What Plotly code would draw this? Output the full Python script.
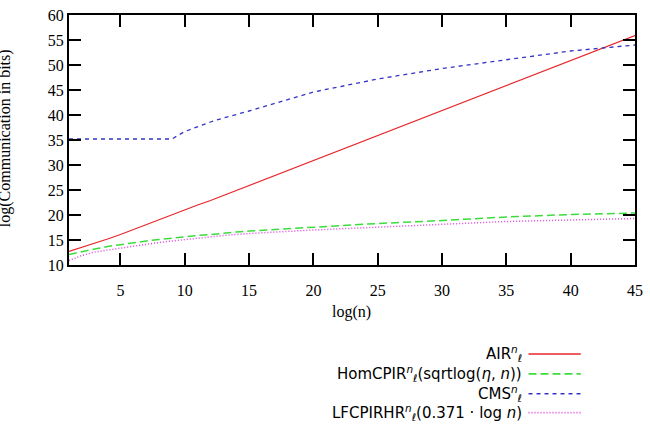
import plotly.graph_objects as go

# log(n) sample points
x_vals = [1, 2, 3, 4, 5, 6, 7, 8, 9, 10, 11, 12, 13, 14, 15, 20, 25, 30, 35, 40, 45]

air = [12.7, 13.5, 14.3, 15.2, 16.1, 17.1, 18.0, 19.0, 20.0, 21.0, 22.0, 22.9, 23.9, 24.8, 25.8,
       30.9, 35.9, 40.9, 45.9, 50.9, 55.9]
homcpir = [12.1, 12.7, 13.2, 13.7, 14.1, 14.5, 14.8, 15.1, 15.4, 15.6, 15.9, 16.1, 16.4, 16.6, 16.8,
           17.6, 18.3, 18.9, 19.6, 20.1, 20.4]
cms = [35.2, 35.2, 35.2, 35.2, 35.2, 35.2, 35.2, 35.2, 35.2, 36.7, 37.7, 38.6, 39.4, 40.1, 40.8,
       44.6, 47.2, 49.3, 51.1, 52.8, 54.0]
lfcpirhr = [10.9, 11.9, 12.6, 13.0, 13.4, 13.8, 14.2, 14.5, 14.8, 15.1, 15.4, 15.7, 15.9, 16.1, 16.3,
            17.0, 17.6, 18.2, 18.7, 19.0, 19.3]

series_names = [
    "AIR<sup><i>n</i></sup><sub>ℓ</sub>",
    "HomCPIR<sup><i>n</i></sup><sub>ℓ</sub>(sqrtlog(<i>η</i>, <i>n</i>))",
    "CMS<sup><i>n</i></sup><sub>ℓ</sub>",
    "LFCPIRHR<sup><i>n</i></sup><sub>ℓ</sub>(0.371 · log <i>n</i>)",
]
series_values = [air, homcpir, cms, lfcpirhr]
colors = ["#e8262a", "#3ddc3d", "#3434c4", "#dc44dc"]
dashes = ["solid", "8px,4px", "4px,4px", "1px,2px"]
widths = [1.2, 1.5, 1.3, 1.5]

x_ticks = [5, 10, 15, 20, 25, 30, 35, 40, 45]
y_ticks = [10, 15, 20, 25, 30, 35, 40, 45, 50, 55, 60]

fig = go.Figure()
for name, vals, c, d, w in zip(series_names, series_values, colors, dashes, widths):
    fig.add_trace(go.Scatter(x=x_vals, y=vals, mode="lines", name=name,
                             line=dict(color=c, dash=d, width=w), showlegend=False))

# Manual legend (text right-aligned, sample line to the right)
L, R, T, B = 69, 643, 14, 265.5
def px(xp):
    return (xp - L) / (R - L)
def py(yp):
    return (B - yp) / (B - T)

legend_y = [355, 375, 395, 414]
for name, c, d, w, yy in zip(series_names, colors, dashes, widths, legend_y):
    fig.add_annotation(x=px(530), y=py(yy), xref="paper", yref="paper", text=name,
                       showarrow=False, xanchor="right", yanchor="middle",
                       font=dict(family="DejaVu Sans", size=15, color="black"))
    fig.add_shape(type="line", xref="paper", yref="paper", x0=px(535), x1=px(588),
                  y0=py(yy), y1=py(yy), line=dict(color=c, dash=d, width=w + 0.3))

# Axis titles
fig.add_annotation(x=px(355), y=py(313), xref="paper", yref="paper", text="log(n)",
                   showarrow=False, xanchor="center", yanchor="middle",
                   font=dict(family="Liberation Serif", size=16, color="black"))
fig.add_annotation(x=px(4), y=py(138), xref="paper", yref="paper",
                   text="log(Communication in bits)", textangle=-90,
                   showarrow=False, xanchor="center", yanchor="middle",
                   font=dict(family="Liberation Serif", size=16, color="black"))

axis_common = dict(showline=True, linecolor="black", linewidth=2, mirror="ticks",
                   ticks="inside", ticklen=12, tickwidth=2, tickcolor="black",
                   showgrid=False, zeroline=False,
                   tickfont=dict(family="Liberation Serif", size=16, color="black"))

fig.update_xaxes(range=[1, 45], tickvals=x_ticks, ticktext=[str(v) for v in x_ticks],
                 ticklabelstandoff=10, **axis_common)
fig.update_yaxes(range=[10, 60], tickvals=y_ticks, ticktext=[str(v) for v in y_ticks],
                 **axis_common)

fig.update_layout(width=650, height=432,
                  margin=dict(l=L, r=650 - R, t=T, b=432 - B, pad=0),
                  plot_bgcolor="white", paper_bgcolor="white",
                  showlegend=False)

fig.write_html("out.html")
